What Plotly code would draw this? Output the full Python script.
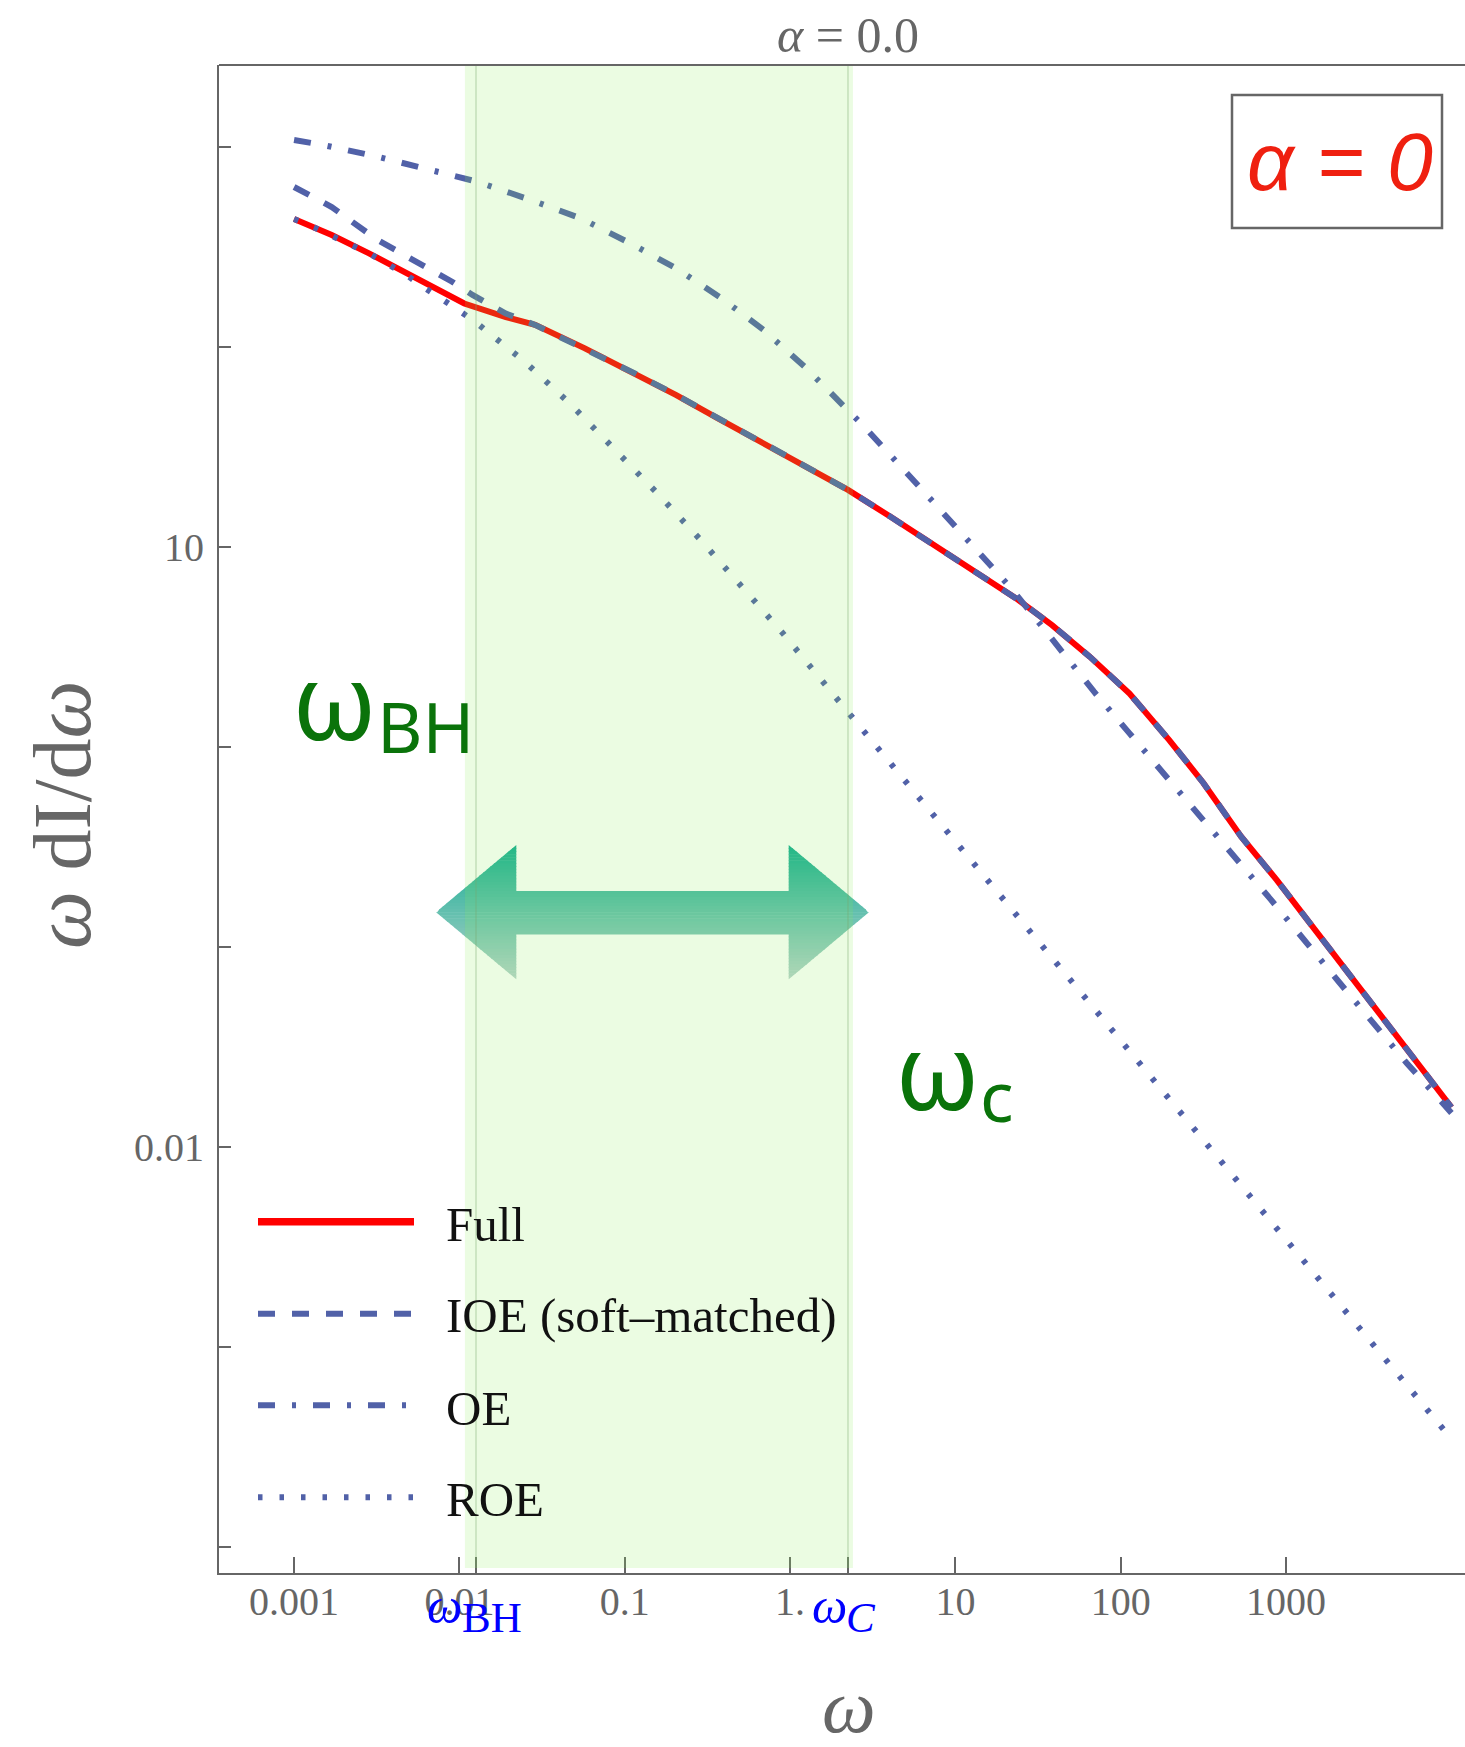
import numpy as np
import plotly.graph_objects as go

# ---------------- data ----------------
full_omega = [0.001, 0.00169, 0.00284, 0.00479, 0.00903, 0.0107, 0.0191, 0.0287, 0.0574, 0.115,
              0.205, 0.366, 0.65, 1.15, 2.24, 4.03, 7.24, 13.0, 23.3, 38.4,
              64.9, 113, 197, 316, 535, 879, 1995, 4467, 10000]
full_val = [436.5, 363, 294, 233, 175, 165, 141, 129, 98.4, 73.8,
            57.5, 44.0, 33.7, 26.3, 19.3, 14.2, 10.4, 7.67, 5.53, 4.07,
            2.83, 1.85, 1.08, 0.661, 0.356, 0.216, 0.0891, 0.038, 0.0158]

ioe_omega = [0.001, 0.00169, 0.00319, 0.00569, 0.00903, 0.0120, 0.0191, 0.0287, 0.0574, 0.115,
             0.205, 0.366, 0.65, 1.15, 2.24, 4.03, 7.24, 13.0, 23.3, 38.4,
             64.9, 113, 197, 316, 535, 879, 1995, 4467, 10000]
ioe_val = [631, 501, 343, 262, 212, 182, 147, 129, 98.4, 73.8,
           57.5, 44.0, 33.7, 26.3, 19.3, 14.2, 10.4, 7.67, 5.53, 4.07,
           2.83, 1.85, 1.08, 0.661, 0.356, 0.216, 0.0891, 0.038, 0.0158]

oe_omega = [0.001, 0.0015, 0.00319, 0.00638, 0.0128, 0.0271, 0.0542, 0.108, 0.205, 0.386,
            0.689, 1.23, 2.11, 2.75, 6.07, 12.6, 21.4, 34.1, 68.9, 113,
            229, 378, 802, 2065, 5358, 10000]
oe_val = [1084, 1023, 895, 782, 671, 543, 440, 330, 247, 175,
          122, 79.4, 51.3, 40.7, 19.95, 10.2, 6.31, 3.92, 1.89, 1.17,
          0.589, 0.363, 0.174, 0.0676, 0.0263, 0.0148]

roe_omega = [0.001, 0.00134, 0.00284, 0.00479, 0.00603, 0.00782, 0.00984, 0.0124, 0.0248, 0.0469,
             0.0861, 0.158, 0.286, 0.422, 0.9, 2.26, 10, 490, 10000]
roe_val = [436.5, 394, 294, 229, 200, 175, 153, 134, 84.5, 51.9,
           31.1, 18.5, 10.9, 7.53, 3.72, 1.48, 0.339, 0.0070, 0.000347]

series_names = ["Full", "IOE (soft\u2013matched)", "OE", "ROE"]

x_tick_vals = [0.001, 0.01, 0.1, 1, 10, 100, 1000]
x_tick_text = ["0.001", "0.01", "0.1", "1.", "10", "100", "1000"]
y_tick_vals = [1e-4, 1e-3, 1e-2, 1e-1, 1, 10, 100, 1000]
y_tick_text = ["", "", "0.01", "", "", "10", "", ""]

omega_bh = 0.0126
omega_c = 2.24
band_lo, band_hi = 0.0108, 2.40
alpha_value = "0"

# ---------------- layout helpers ----------------
W, H = 1465, 1747
L, R, T, B = 219, 0, 65, 174
PW, PH = W - L - R, H - T - B


def px(x):
    return (x - L) / PW


def py(y):
    return (H - B - y) / PH


RED = "#ff0000"
BLUE = "#5161a8"
GRAY = "#666666"
GREEN_TXT = "#0a730a"
SERIF = "Liberation Serif, Times New Roman, serif"
SANS = "Noto Sans, Open Sans, sans-serif"

styles = [
    dict(color=RED, width=6, dash="solid"),
    dict(color=BLUE, width=6, dash="17px,17px"),
    dict(color=BLUE, width=6, dash="17px,17px,4px,17px"),
    dict(color=BLUE, width=6, dash="4.5px,17px"),
]

fig = go.Figure()
for (xs, ys), st, name in zip(
    [(full_omega, full_val), (ioe_omega, ioe_val), (oe_omega, oe_val), (roe_omega, roe_val)],
    styles, series_names,
):
    fig.add_trace(go.Scatter(x=xs, y=ys, mode="lines", name=name, line=st,
                             showlegend=False, hoverinfo="skip"))

shapes = []
annotations = []

# ---- gradient double arrow (drawn below the green band) ----
TIP_L, TIP_R, HEAD_L, HEAD_R = 436.0, 869.0, 516.3, 788.7
A_TOP, A_BOT, S_TOP, S_BOT = 845.0, 979.3, 891.0, 934.0
A_MID = (A_TOP + A_BOT) / 2
c_top = np.array([16, 173, 146])
c_bot = np.array([184, 211, 204])


def hdx(y):
    return (HEAD_L - TIP_L) * abs(y - A_MID) / (A_MID - A_TOP)


def poly(pts):
    return "M" + " L".join(f"{px(x):.5f},{py(y):.5f}" for x, y in pts) + " Z"


edges = np.unique(np.round(np.concatenate([np.linspace(A_TOP, A_BOT, 45), [S_TOP, S_BOT, A_MID]]), 3))
for ya, yb in zip(edges[:-1], edges[1:]):
    ym = (ya + yb) / 2
    t = (ym - A_TOP) / (A_BOT - A_TOP)
    c = (1 - t) * c_top + t * c_bot
    col = f"rgb({int(c[0])},{int(c[1])},{int(c[2])})"
    yb2 = min(yb + 0.6, A_BOT)
    if S_TOP <= ym <= S_BOT:
        pieces = [[(TIP_L + hdx(ya), ya), (TIP_R - hdx(ya), ya), (TIP_R - hdx(yb2), yb2), (TIP_L + hdx(yb2), yb2)]]
    else:
        pieces = [[(TIP_L + hdx(ya), ya), (HEAD_L, ya), (HEAD_L, yb2), (TIP_L + hdx(yb2), yb2)],
                  [(HEAD_R, ya), (TIP_R - hdx(ya), ya), (TIP_R - hdx(yb2), yb2), (HEAD_R, yb2)]]
    for p in pieces:
        shapes.append(dict(type="path", path=poly(p), xref="paper", yref="paper",
                           fillcolor=col, line=dict(width=0), layer="above"))

# ---- green band and its edge lines (shape x on a log axis given as data values) ----
shapes.append(dict(type="rect", xref="x", yref="paper",
                   x0=band_lo, x1=band_hi, y0=py(1568), y1=1,
                   fillcolor="rgb(138,238,85)", opacity=0.17, line=dict(width=0), layer="above"))
for w in (omega_bh, omega_c):
    shapes.append(dict(type="line", xref="x", yref="paper", x0=w, x1=w,
                       y0=py(1568), y1=1, line=dict(color="rgba(120,165,110,0.35)", width=1.5),
                       layer="above"))

# ---- top frame line ----
shapes.append(dict(type="line", xref="paper", yref="paper", x0=0, x1=1, y0=1, y1=1,
                   line=dict(color=GRAY, width=2), layer="above"))

# ---- legend (manual) ----
leg_line_y = [1221.7, 1313.7, 1405.3, 1497.3]
leg_text_y = [1224, 1315.5, 1408, 1499]
for st, yl, yt, name in zip(styles, leg_line_y, leg_text_y, series_names):
    shapes.append(dict(type="line", xref="paper", yref="paper", x0=px(258), x1=px(414),
                       y0=py(yl), y1=py(yl),
                       line=dict(color=st["color"], width=st["width"] + (1.5 if st["dash"] == "solid" else 0),
                                 dash=st["dash"]), layer="above"))
    annotations.append(dict(text=name, xref="paper", yref="paper", x=px(444), y=py(yt),
                            xanchor="left", yanchor="middle", showarrow=False,
                            font=dict(family=SERIF, size=49, color="#111111")))

# ---- alpha box ----
shapes.append(dict(type="rect", xref="paper", yref="paper", x0=px(1232), x1=px(1442),
                   y0=py(228), y1=py(95), line=dict(color=GRAY, width=2.5), fillcolor="rgba(0,0,0,0)",
                   layer="above"))
annotations.append(dict(text=f"<i>\u03b1 = {alpha_value}</i>", xref="paper", yref="paper",
                        x=px(1340), y=py(161.6), xanchor="center", yanchor="middle", showarrow=False,
                        font=dict(family="Liberation Sans, Arial, sans-serif", size=82, color="#ef2010")))

# ---- title and axis titles ----
annotations.append(dict(text="<i>\u03b1</i> = 0.0", xref="paper", yref="paper", x=px(848), y=py(34.5),
                        xanchor="center", yanchor="middle", showarrow=False,
                        font=dict(family=SERIF, size=50, color=GRAY)))
annotations.append(dict(text="<i>\u03c9</i> dI/d<i>\u03c9</i>", xref="paper", yref="paper", x=px(63),
                        y=py(815), xanchor="center", yanchor="middle", textangle=-90, showarrow=False,
                        font=dict(family=SERIF, size=82, color=GRAY)))
annotations.append(dict(text="<i>\u03c9</i>", xref="paper", yref="paper", x=px(849), y=py(1706),
                        xanchor="center", yanchor="middle", showarrow=False,
                        font=dict(family=SERIF, size=76, color=GRAY)))

# ---- blue tick labels for omega_BH and omega_C ----
for w, sub, sub_it, xs_w, xs_s in [(omega_bh, "BH", False, -32, 16), (omega_c, "C", True, -18, 13.5)]:
    annotations.append(dict(text="<i>\u03c9</i>", xref="x", yref="paper", x=np.log10(w), y=py(1606),
                            xshift=xs_w, xanchor="center", yanchor="middle", showarrow=False,
                            font=dict(family=SERIF, size=50, color="#0000ff")))
    annotations.append(dict(text=f"<i>{sub}</i>" if sub_it else sub, xref="x", yref="paper",
                            x=np.log10(w), y=py(1618), xshift=xs_s, xanchor="center", yanchor="middle",
                            showarrow=False, font=dict(family=SERIF, size=43, color="#0000ff")))

# ---- big green labels ----
annotations.append(dict(text="\u03c9", xref="paper", yref="paper", x=px(334), y=py(699),
                        xanchor="center", yanchor="middle", showarrow=False,
                        font=dict(family=SANS, size=106, color=GREEN_TXT)))
annotations.append(dict(text="BH", xref="paper", yref="paper", x=px(425), y=py(726),
                        xanchor="center", yanchor="middle", showarrow=False,
                        font=dict(family=SANS, size=70, color=GREEN_TXT)))
annotations.append(dict(text="\u03c9", xref="paper", yref="paper", x=px(937), y=py(1069),
                        xanchor="center", yanchor="middle", showarrow=False,
                        font=dict(family=SANS, size=106, color=GREEN_TXT)))
annotations.append(dict(text="c", xref="paper", yref="paper", x=px(997), y=py(1095),
                        xanchor="center", yanchor="middle", showarrow=False,
                        font=dict(family=SANS, size=70, color=GREEN_TXT)))

fig.update_layout(
    width=W, height=H,
    margin=dict(l=L, r=R, t=T, b=B, autoexpand=False),
    paper_bgcolor="white", plot_bgcolor="white",
    shapes=shapes, annotations=annotations,
    xaxis=dict(type="log", range=[-3.454, 4.082], showgrid=False, zeroline=False,
               showline=True, linecolor=GRAY, linewidth=2, mirror=False,
               ticks="inside", ticklen=16, tickwidth=1.5, tickcolor=GRAY,
               tickvals=x_tick_vals + [omega_bh, omega_c], ticktext=x_tick_text + ["", ""],
               ticklabelstandoff=-8,
               tickfont=dict(family=SERIF, size=40, color=GRAY), automargin=False),
    yaxis=dict(type="log", range=[-4.13, 3.41], showgrid=False, zeroline=False,
               showline=True, linecolor=GRAY, linewidth=2, mirror=False,
               ticks="inside", ticklen=12, tickwidth=1.5, tickcolor=GRAY,
               tickvals=y_tick_vals, ticktext=y_tick_text, ticklabelstandoff=5,
               tickfont=dict(family=SERIF, size=40, color=GRAY), automargin=False),
)

fig.write_html("out.html", config={"displayModeBar": False})
